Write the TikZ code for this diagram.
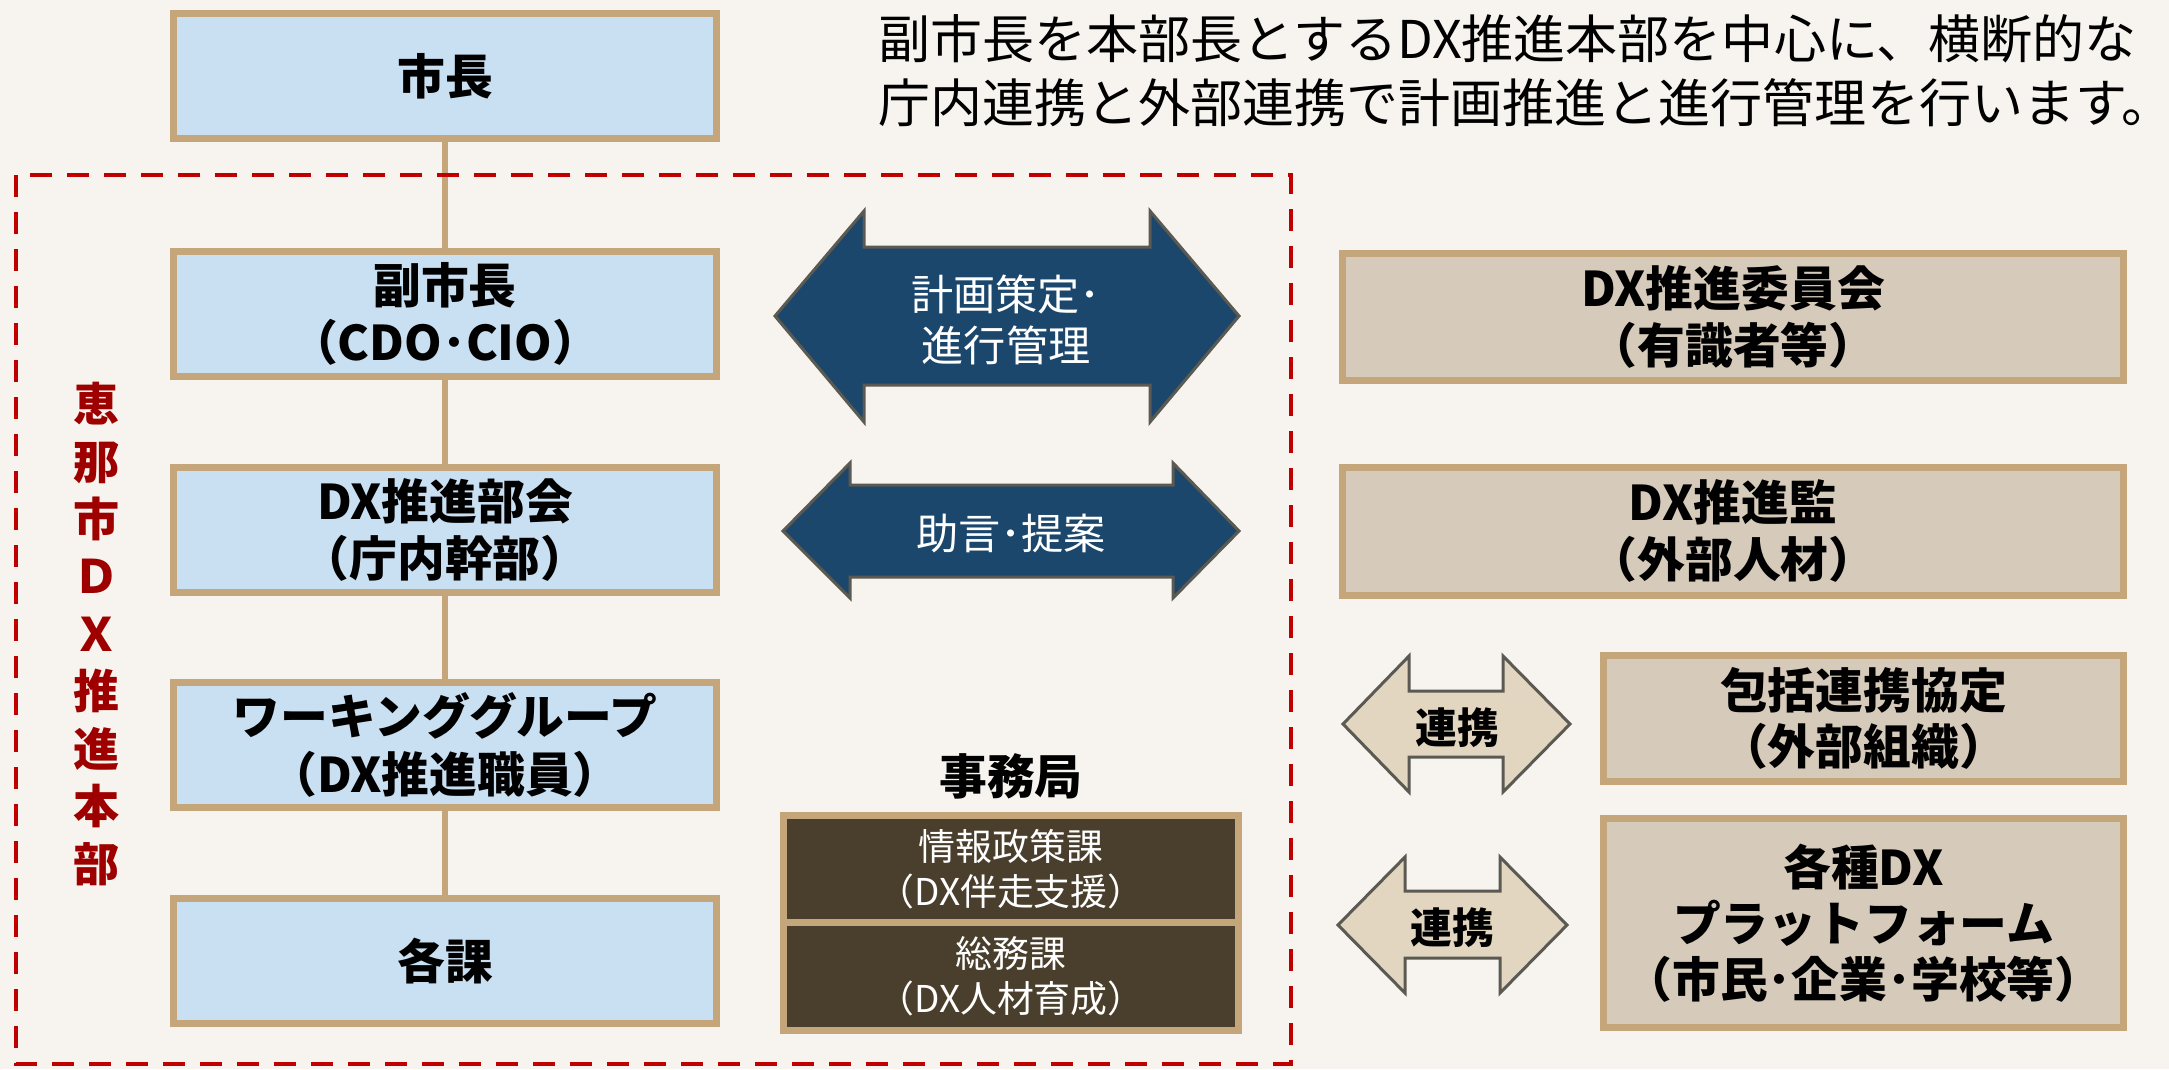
\documentclass[tikz,border=0pt]{standalone}
\usepackage{fontspec}
\setmainfont{Noto Sans CJK JP}
\usetikzlibrary{positioning}
\definecolor{bgcol}{HTML}{F7F4EF}
\definecolor{paleblue}{HTML}{C9DFF2}
\definecolor{tanline}{HTML}{C4A67A}
\definecolor{beigebox}{HTML}{D6CABA}
\definecolor{navy}{HTML}{1B476C}
\definecolor{arrowedge}{HTML}{5B5A52}
\definecolor{lightarrow}{HTML}{E2D6C1}
\definecolor{darkbox}{HTML}{4A3F2D}
\definecolor{dashred}{HTML}{C00000}
\definecolor{labelred}{HTML}{9E0000}
\tikzset{
  blbox/.style={draw=tanline,fill=paleblue,line width=0.7mm,inner sep=0pt,align=center,
    minimum width=54.3mm,minimum height=12.5mm,font=\bfseries\fontsize{13.6pt}{16.4pt}\selectfont},
  bgbox/.style={draw=tanline,fill=beigebox,line width=0.7mm,inner sep=0pt,align=center,
    font=\bfseries\fontsize{13.6pt}{16pt}\selectfont},
  dkbox/.style={draw=tanline,fill=darkbox,line width=0.7mm,inner sep=0pt,align=center,
    minimum width=45.5mm,minimum height=10.75mm,text=white,font=\fontsize{10.5pt}{12.8pt}\selectfont},
  bigarrow/.style={draw=arrowedge,fill=navy,line width=0.3mm},
  smallarrow/.style={draw=arrowedge,fill=lightarrow,line width=0.3mm},
  link/.style={draw=tanline,line width=0.6mm}
}

\begin{document}
\begin{tikzpicture}[x=0.1mm,y=-0.1mm]
\useasboundingbox (0,0) rectangle (2169,1069);
\fill[bgcol] (0,0) rectangle (2169,1069);
\node[anchor=west,align=left,inner sep=0pt,font=\fontsize{14.8pt}{18.2pt}\selectfont] (T) at (878,71)
  {副市長を本部長とするDX推進本部を中心に、横断的な\\庁内連携と外部連携で計画推進と進行管理を行います。};
\node[blbox] (A) at (445,76) {市長};
\node[blbox] (B) at (445,314) {副市長\\（CDO･CIO）};
\node[blbox] (C) at (445,530) {DX推進部会\\（庁内幹部）};
\node[blbox] (D) at (445,745) {ワーキンググループ\\（DX推進職員）};
\node[blbox] (E) at (445,961) {各課};
\draw[link] (A) -- (B);
\draw[link] (B) -- (C);
\draw[link] (C) -- (D);
\draw[link] (D) -- (E);
\draw[dashred,line width=0.4mm,dash pattern=on 2.2mm off 1.5mm] (16,175) rectangle (1291,1064);
\node[text=labelred,align=center,font=\bfseries\fontsize{13.1pt}{16.36pt}\selectfont] (R) at (97,634)
  {恵\\那\\市\\Ｄ\\Ｘ\\推\\進\\本\\部};
\draw[bigarrow] (775,316) -- (864,211) -- (864,247) -- (1150,247) -- (1150,211) -- (1239,316)
  -- (1150,422) -- (1150,385) -- (864,385) -- (864,422) -- cycle;
\node[text=white,align=center,font=\fontsize{12pt}{14.5pt}\selectfont] (P) at (1006,320) {計画策定･\\進行管理};
\draw[bigarrow] (783,531) -- (850,463) -- (850,485) -- (1173,485) -- (1173,463) -- (1239,531)
  -- (1173,598) -- (1173,577) -- (850,577) -- (850,598) -- cycle;
\node[text=white,font=\fontsize{12pt}{14.5pt}\selectfont] (Q) at (1011,533) {助言･提案};
\node[dkbox] (J) at (1011,869.25) {情報政策課\\（DX伴走支援）};
\node[dkbox] (K) at (1011,976.25) {総務課\\（DX人材育成）};
\node[font=\bfseries\fontsize{13.6pt}{16pt}\selectfont] (L) at (1011,776) {事務局};
\node[bgbox,minimum width=78.1mm,minimum height=12.7mm] (F) at (1733,317) {DX推進委員会\\（有識者等）};
\node[bgbox,minimum width=78.1mm,minimum height=12.8mm] (G) at (1733,531) {DX推進監\\（外部人材）};
\node[bgbox,minimum width=52mm,minimum height=12.6mm] (H) at (1863.5,718.5) {包括連携協定\\（外部組織）};
\node[bgbox,minimum width=52mm,minimum height=20.9mm,font=\bfseries\fontsize{13.6pt}{15.9pt}\selectfont] (I) at (1863.5,923)
  {各種DX\\プラットフォーム\\（市民･企業･学校等）};
\draw[smallarrow] (1343,724) -- (1409,656) -- (1409,691) -- (1503,691) -- (1503,656) -- (1570,724)
  -- (1503,792) -- (1503,757) -- (1409,757) -- (1409,792) -- cycle;
\node[font=\bfseries\fontsize{11.9pt}{14pt}\selectfont] (M) at (1457,728) {連携};
\draw[smallarrow] (1338,925) -- (1405,857) -- (1405,891) -- (1500,891) -- (1500,857) -- (1567,925)
  -- (1500,993) -- (1500,958) -- (1405,958) -- (1405,993) -- cycle;
\node[font=\bfseries\fontsize{11.9pt}{14pt}\selectfont] (N) at (1452,928) {連携};
\end{tikzpicture}
\end{document}
